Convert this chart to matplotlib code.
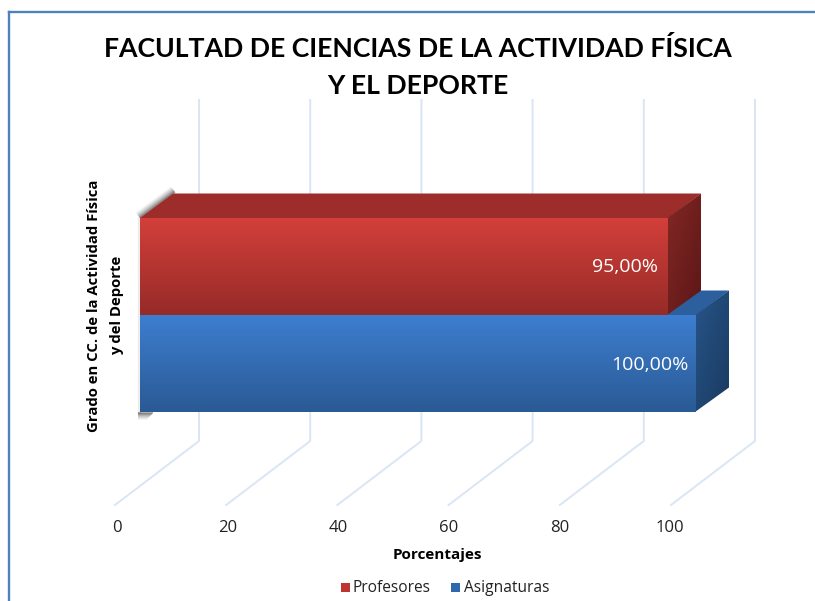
import numpy as np
import matplotlib
matplotlib.use('Agg')
import matplotlib.pyplot as plt
from matplotlib.colors import LinearSegmentedColormap
from matplotlib.patches import Polygon, Rectangle

# ==> Data
series = ['Asignaturas', 'Profesores']
values = [100, 95]
value_labels = ['100,00%', '95,00%']
ticks = [0, 20, 40, 60, 80, 100]
category = 'Grado en CC. de la Actividad Física\ny del Deporte'
title = 'FACULTAD DE CIENCIAS DE LA ACTIVIDAD FÍSICA\nY EL DEPORTE'

W, H = 815, 601
PX_X = 5.56     # pixels per percent
PX_Y = 97.0     # pixels per bar
X0 = 140.0      # pixel of 0 on the bar front
Y0 = 363.5      # pixel of the first bar centre

plt.rcParams['font.family'] = ['Open Sans', 'DejaVu Sans']

fig = plt.figure(figsize=(W / 100, H / 100), dpi=100)
ax = fig.add_axes([0, 0, 1, 1])
ax.axis('off')


# pixel offsets of the fake depth, to data units
def dx(px):
    return px / PX_X


def dy(px):
    return px / PX_Y


def px_y(py):
    return (Y0 - py) / PX_Y


def gradient_face(pts, c_top, c_bottom, angle='v', z=3):
    # fills polygon with a gradient, clipped with imshow
    pts = np.array(pts)
    cmap = LinearSegmentedColormap.from_list('f', [c_bottom, c_top])
    g = np.linspace(0, 1, 128)
    if angle == 'v':
        img = g.reshape(-1, 1)
    else:
        # diagonal, darker towards the lower right
        img = (np.add.outer(g, 1 - g)) / 2
    ext = [pts[:, 0].min(), pts[:, 0].max(), pts[:, 1].min(), pts[:, 1].max()]
    im = ax.imshow(img, cmap=cmap, extent=ext, origin='lower',
                   aspect='auto', zorder=z, vmin=0, vmax=1)
    poly = Polygon(pts, closed=True, transform=ax.transData, fc='none', ec='none')
    ax.add_patch(poly)
    im.set_clip_path(poly)


def draw_bar(val, ypos, front, top_col, side, z):
    y1, y2 = ypos - 0.5, ypos + 0.5
    d_x, d_y = dx(33), dy(24.5)
    ax.add_patch(Polygon([(0, y2), (val, y2), (val + d_x, y2 + d_y), (d_x, y2 + d_y)],
                         fc=top_col, ec='none', zorder=z))
    # side slides 1px under the front so no white seam shows
    gradient_face([(val - dx(1), y1), (val - dx(1), y2), (val + d_x, y2 + d_y), (val + d_x, y1 + d_y)],
                  side[0], side[1], angle='d', z=z + 0.1)
    gradient_face([(0, y1), (val, y1), (val, y2), (0, y2)], front[0], front[1], z=z + 0.2)


# ==> Frame
frame_color = '#4f81bd'
ax.plot([dx(9 - X0), dx(9 - X0)], [px_y(H), px_y(12)], color=frame_color, lw=1.7, zorder=1)
ax.plot([dx(9 - X0), dx(W - X0)], [px_y(12), px_y(12)], color=frame_color, lw=1.7, zorder=1)

# ==> Grid, wall and floor
grid_color = '#dae5f5'
for t in ticks:
    wx = t + dx(59)
    ax.plot([wx, wx, t - dx(25)], [px_y(100), px_y(441), px_y(505)],
            color=grid_color, lw=1.4, zorder=1)
    ax.text(t * 0.995 - dx(23), px_y(528), str(t), ha='center', va='center',
            fontsize=12, color='#222222')

# ==> Soft shadow hugging the back left edge, fading outwards
for k, a in enumerate([0.30, 0.24, 0.18, 0.13, 0.09, 0.06, 0.03]):
    ax.plot([dx(-0.6 * k), dx(35 - 0.6 * k)],
            [px_y(218 - 0.8 * k), px_y(192 - 0.8 * k)],
            color='k', alpha=a, lw=1.5, zorder=2, solid_capstyle='butt')
    ax.plot([dx(-2), dx(13 - k)], [px_y(413 + k), px_y(413 + k)],
            color='k', alpha=a, lw=1.5, zorder=2, solid_capstyle='butt')
ax.plot([dx(-1), dx(-1)], [px_y(218), px_y(412)], color='k', alpha=0.07, lw=2.5, zorder=2)

# ==> Bars
blue = (['#3d7ed0', '#2a5a94'], '#2c5f9e', ['#275589', '#1a3a60'])
red = (['#d33f3a', '#962b28'], '#9c2d2a', ['#832825', '#5c1616'])
draw_bar(values[0], 0, blue[0], blue[1], blue[2], 3)
draw_bar(values[1], 1, red[0], red[1], red[2], 4)

ax.text(values[0] - dx(7), px_y(364.5), value_labels[0], ha='right', va='center', color='white',
        fontsize=14, zorder=6)
ax.text(values[1] - dx(10), px_y(267.5), value_labels[1], ha='right', va='center', color='white',
        fontsize=14, zorder=6)

# ==> Texts
ax.text(dx(417.5 - X0), px_y(67), title, ha='center', va='center', fontsize=19.2,
        fontweight='bold', family=['Lato', 'DejaVu Sans'], color='k', linespacing=1.68)
ax.text(dx(105.5 - X0), px_y(305.5), category, ha='center', va='center', rotation=90,
        fontsize=10.7, fontweight='bold', color='k', linespacing=1.75)
ax.text(dx(437 - X0), px_y(555.5), 'Porcentajes', ha='center', va='center',
        fontsize=11, fontweight='bold', color='k')

# ==> Legend
for name, col, bx, tx in [('Profesores', '#bf3431', 341, 353), ('Asignaturas', '#2f69ad', 451, 464)]:
    ax.add_patch(Rectangle((dx(bx - X0), px_y(592)), dx(9), dy(9), fc=col, ec='none', zorder=3))
    ax.text(dx(tx - X0), px_y(588), name, ha='left', va='center', fontsize=11.2, color='#222222')

ax.set_xlim(-X0 / PX_X, (W - X0) / PX_X)
ax.set_ylim((Y0 - H) / PX_Y, Y0 / PX_Y)

fig.savefig('out.png', dpi=100)
